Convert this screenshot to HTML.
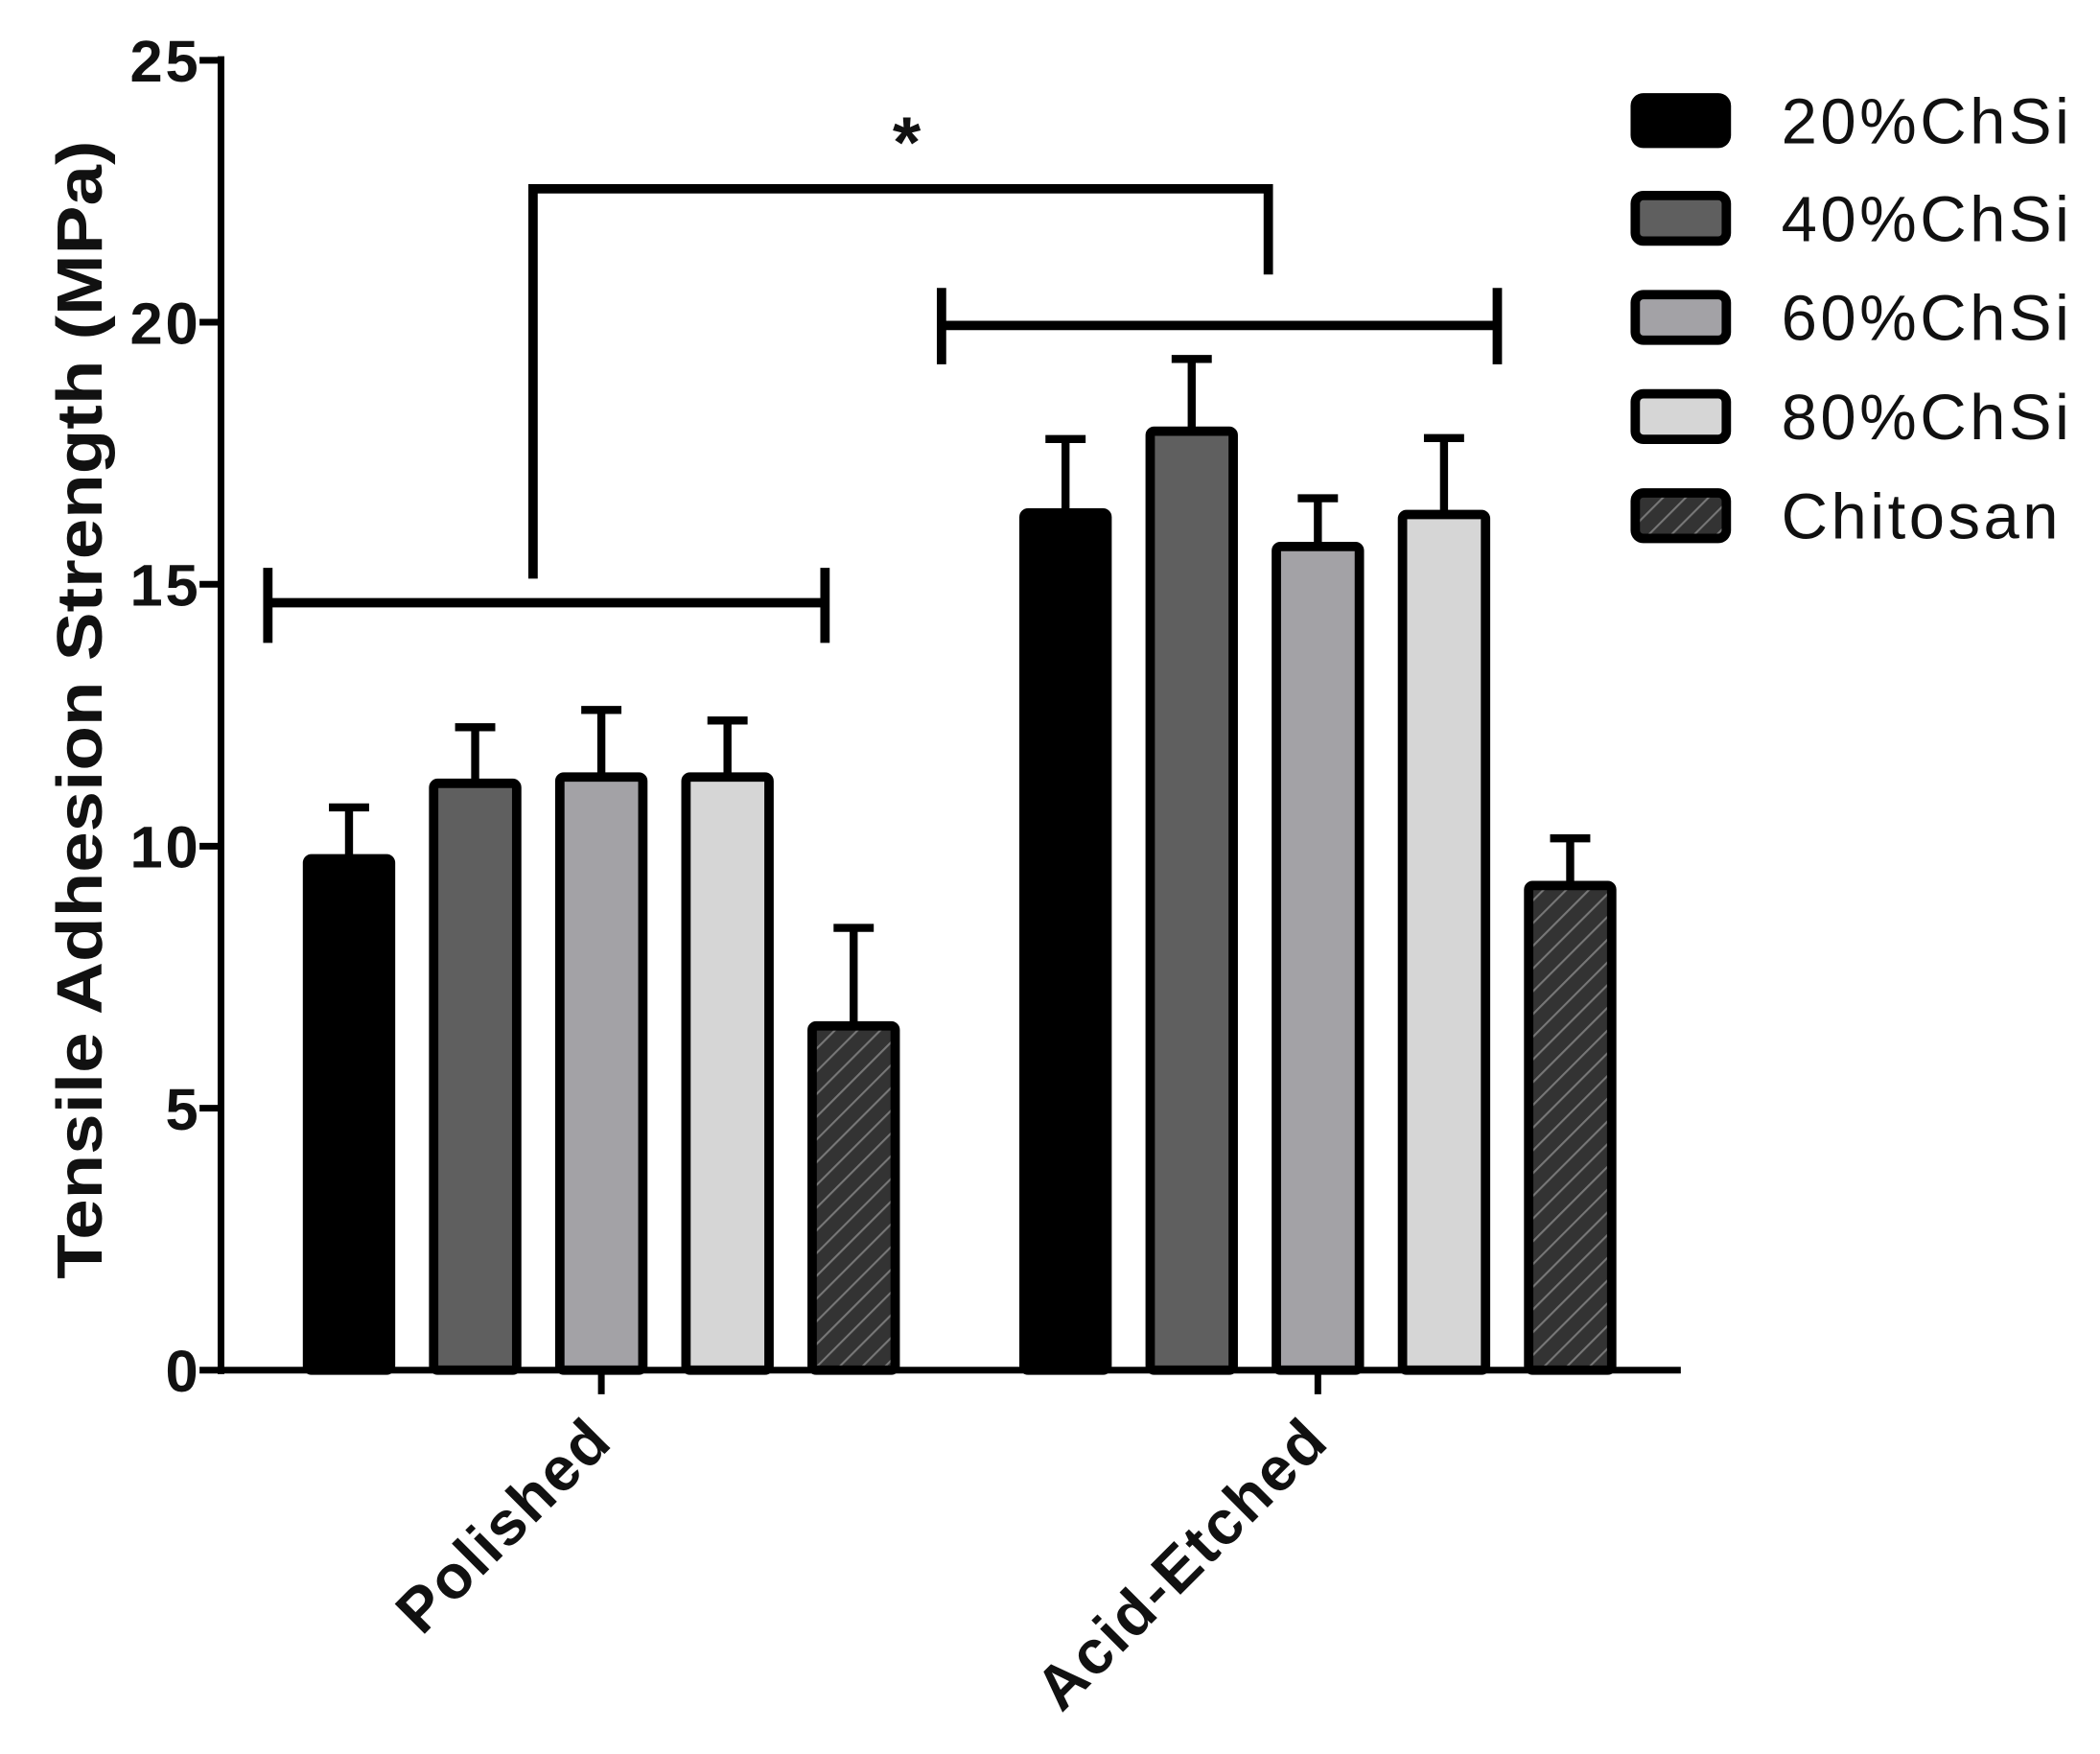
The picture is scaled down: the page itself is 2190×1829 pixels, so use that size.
<!DOCTYPE html>
<html><head><meta charset="utf-8"><style>
html,body{margin:0;padding:0;background:#fff;}
svg{display:block;}
text{font-family:"Liberation Sans",Arial,sans-serif;}
</style></head><body>
<svg id="chart" width="2190" height="1829" viewBox="0 0 1568 1309.6" preserveAspectRatio="none" xmlns="http://www.w3.org/2000/svg">
<defs>
<pattern id="hatch" patternUnits="userSpaceOnUse" width="12" height="12" patternTransform="rotate(45)">
<rect width="12" height="12" fill="#333"/>
<line x1="0" y1="0" x2="0" y2="12" stroke="#777" stroke-width="3"/>
</pattern>
</defs>
<g id="plot"></g>
</svg>
<script>
const categories = ["Polished", "Acid-Etched"];
const seriesNames = ["20%ChSi", "40%ChSi", "60%ChSi", "80%ChSi", "Chitosan"];
const polishedValues = [9.76, 11.2, 11.32, 11.32, 6.57];
const polishedErrors = [0.98, 1.07, 1.28, 1.08, 1.87];
const etchedValues = [16.36, 17.92, 15.72, 16.33, 9.25];
const etchedErrors = [1.41, 1.38, 0.92, 1.46, 0.9];
const yTicks = [0, 5, 10, 15, 20, 25];
const fills = ["#000000", "#5f5f5f", "#a3a2a6", "#d6d6d6", "url(#hatch)"];

const NS = "http://www.w3.org/2000/svg";
const g = document.getElementById("plot");
const X0 = 165, XEND = 1255, Y0 = 1023, YTOP = 45, YMAX = 25;
const y = v => Y0 - (v / YMAX) * (Y0 - YTOP);
const groupCenter = [449, 984];
const barStep = 94.2, barW = 62;
const barX = (gi, si) => groupCenter[gi] + (si - 2) * barStep;

function mk(tag, attrs, parent) {
  const e = document.createElementNS(NS, tag);
  for (const k in attrs) e.setAttribute(k, attrs[k]);
  (parent || g).appendChild(e);
  return e;
}

let e = mk("line", {x1: X0, y1: YTOP - 3, x2: X0, y2: Y0 + 3, stroke: "#000", "stroke-width": 5});


e = mk("line", {x1: X0 - 2, y1: Y0, x2: XEND, y2: Y0, stroke: "#000", "stroke-width": 5});



yTicks.forEach(t => {
  const tk = mk("line", {x1: X0 - 16, y1: y(t), x2: X0, y2: y(t), stroke: "#000", "stroke-width": 5});
  
  
  const lb = mk("text", {x: 150, y: y(t) + 16, "text-anchor": "end", "font-size": 44, "font-weight": "bold", "letter-spacing": 2, fill: "#111"});
  lb.textContent = t;
  
  
});

e = mk("text", {x: 0, y: 0, "text-anchor": "middle", "font-size": 48, "font-weight": "bold", fill: "#111", textLength: 850, lengthAdjust: "spacingAndGlyphs", transform: "translate(76,530) rotate(-90)"});
e.textContent = "Tensile Adhesion Strength  (MPa)";



categories.forEach((c, gi) => {
  const tk = mk("line", {x1: groupCenter[gi], y1: Y0, x2: groupCenter[gi], y2: Y0 + 18, stroke: "#000", "stroke-width": 5});
  
  
  const lb = mk("text", {x: 0, y: 0, "text-anchor": "end", "font-size": 46, "font-weight": "bold", "letter-spacing": 1.5, fill: "#111", transform: `translate(${groupCenter[gi] + 10},${Y0 + 55}) rotate(-45)`});
  lb.textContent = c;
  
  
});

function drawGroup(gi, vals, errs) {
  vals.forEach((v, si) => {
    const cx = barX(gi, si);
    const top = y(v);
    const et = y(v + errs[si]);
    const el = mk("line", {x1: cx, y1: top, x2: cx, y2: et, stroke: "#000", "stroke-width": 6});
    
    
    const cap = mk("line", {x1: cx - 15, y1: et, x2: cx + 15, y2: et, stroke: "#000", "stroke-width": 6});
    
    
    const r = mk("rect", {x: cx - barW / 2, y: top, width: barW, height: Y0 - top, fill: fills[si], stroke: "#000", "stroke-width": 7, rx: 3});
    
    
  });
}
drawGroup(0, polishedValues, polishedErrors);
drawGroup(1, etchedValues, etchedErrors);

function path(d, name) {
  const p = mk("path", {d: d, fill: "none", stroke: "#000", "stroke-width": 7});
  
  
}
path("M200 450 H616 M200 424 V480 M616 424 V480", "polished-bracket");
path("M703 243 H1118 M703 215 V272 M1118 215 V272", "etched-bracket");
path("M398 432 V141 H947 V205", "comparison-bracket");
e = mk("text", {x: 677, y: 125, "text-anchor": "middle", "font-size": 54, "font-weight": "bold", fill: "#111"});
e.textContent = "*";



const legendY = [90, 163, 237, 311, 385];
seriesNames.forEach((n, si) => {
  const r = mk("rect", {x: 1221, y: legendY[si] - 17, width: 68, height: 34, fill: fills[si], stroke: "#000", "stroke-width": 7, rx: 6});
  
  
  const t = mk("text", {x: 1330, y: legendY[si] + 17, "font-size": 48, "letter-spacing": 2.5, fill: "#111"});
  t.textContent = n;
  
  
});
</script>
</body></html>
